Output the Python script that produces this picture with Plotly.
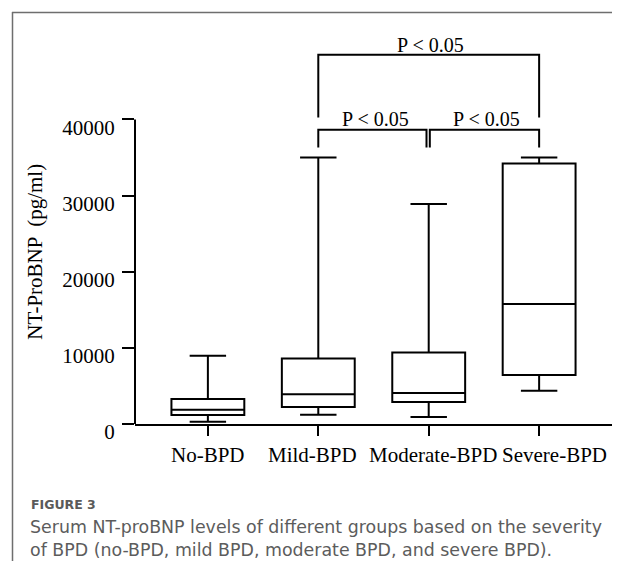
import plotly.graph_objects as go

# ---------------- data ----------------
categories = ["No-BPD", "Mild-BPD", "Moderate-BPD", "Severe-BPD"]
whisker_low = [300, 1200, 920, 4370]
q1_vals = [1180, 2230, 2890, 6430]
median_vals = [1880, 3900, 4070, 15760]
q3_vals = [3280, 8600, 9400, 34220]
whisker_high = [8970, 35000, 28900, 35000]

y_ticks = [0, 10000, 20000, 30000, 40000]
y_title = "NT-ProBNP  (pg/ml)"
p_label = "P < 0.05"
caption_head = "FIGURE 3"
caption_lines = [
    "Serum NT-proBNP levels of different groups based on the severity",
    "of BPD (no-BPD, mild BPD, moderate BPD, and severe BPD).",
]

# ---------------- layout constants ----------------
# the page body has an 8px margin, so the figure is sized to fit the window
OFF = 8
W, H = 620 - 2 * OFF, 569 - 2 * OFF
ML, MR, MT, MB = 127, 0, 20, 137
PW, PH = W - ML - MR, H - MT - MB
Y_MAX = 52000
X_RANGE = [-0.66, 3.66]
LABEL_SHIFT = [0, -6, 4, 15]   # px nudges of the category labels (avoid overlap)

def pxx(page_x):
    return (page_x - OFF - ML) / PW

def pxy(page_y):
    return (H - MB - (page_y - OFF)) / PH

SERIF = "Liberation Serif, Times New Roman, serif"
SANS = "DejaVu Sans, Open Sans, sans-serif"

x_pos = list(range(len(categories)))

fig = go.Figure()
fig.add_trace(go.Box(
    x=x_pos,
    q1=q1_vals, median=median_vals, q3=q3_vals,
    lowerfence=whisker_low, upperfence=whisker_high,
    width=0.66, whiskerwidth=0.5,
    line=dict(color="black", width=2),
    fillcolor="white",
    boxpoints=False,
    hoverinfo="skip",
    showlegend=False,
))

shapes = []
line_style = dict(color="black", width=2)
# y axis line from 0 to top tick
shapes.append(dict(type="line", xref="paper", yref="y", x0=0, x1=0,
                   y0=0, y1=y_ticks[-1], line=line_style))

# significance brackets (Mild vs Moderate, Moderate vs Severe, Mild vs Severe)
low_bar, low_leg = 38650, 36320
top_bar, top_leg = 48500, 40260
brackets = [
    (1, 1.98, low_bar, low_leg),
    (2.01, 3, low_bar, low_leg),
    (1, 3, top_bar, top_leg),
]
for xa, xb, yb, yl in brackets:
    shapes.append(dict(type="path", xref="x", yref="y",
                       path=f"M {xa},{yl} L {xa},{yb} L {xb},{yb} L {xb},{yl}",
                       line=line_style))

# outer frame (gray)
frame = dict(color="#6e6e6e", width=1.5)
shapes.append(dict(type="line", xref="paper", yref="paper",
                   x0=pxx(12), x1=pxx(620), y0=pxy(12.5), y1=pxy(12.5), line=frame))
shapes.append(dict(type="line", xref="paper", yref="paper",
                   x0=pxx(12.5), x1=pxx(12.5), y0=pxy(12), y1=pxy(569), line=frame))

annotations = []
p_font = dict(family=SERIF, size=20, color="black")
for xc, yc in [(1.52, 40090), (2.52, 40090), (2.02, 49800)]:
    annotations.append(dict(x=xc, y=yc, xref="x", yref="y", text=p_label,
                            showarrow=False, font=p_font,
                            xanchor="center", yanchor="middle"))

# category labels under the ticks
for xi, name, sh in zip(x_pos, categories, LABEL_SHIFT):
    annotations.append(dict(x=xi, y=pxy(454.5), xref="x", yref="paper", text=name,
                            xshift=sh, showarrow=False,
                            font=dict(family=SERIF, size=21, color="black"),
                            xanchor="center", yanchor="middle"))

annotations.append(dict(x=pxx(35), y=22630, xref="paper", yref="y",
                        text=y_title, textangle=-90, showarrow=False,
                        font=dict(family=SERIF, size=21, color="black"),
                        xanchor="center", yanchor="middle"))

annotations.append(dict(x=pxx(29), y=pxy(504.5), xref="paper", yref="paper",
                        text=caption_head, showarrow=False,
                        font=dict(family=SANS, size=12.5, color="#5a5a5a", weight="bold"),
                        xanchor="left", yanchor="middle"))
for i, line in enumerate(caption_lines):
    annotations.append(dict(x=pxx(28), y=pxy(527 + 22.5 * i), xref="paper", yref="paper",
                            text=line, showarrow=False,
                            font=dict(family=SANS, size=17.4, color="#5c5c5c"),
                            xanchor="left", yanchor="middle"))

fig.update_layout(
    width=W, height=H,
    margin=dict(l=ML, r=MR, t=MT, b=MB, pad=0),
    paper_bgcolor="white", plot_bgcolor="white",
    shapes=shapes, annotations=annotations,
    xaxis=dict(range=X_RANGE, tickmode="array", tickvals=x_pos, ticktext=categories,
               showticklabels=False,
               showline=True, linecolor="black", linewidth=2,
               ticks="outside", ticklen=10, tickwidth=2, tickcolor="black",
               showgrid=False, zeroline=False),
    yaxis=dict(range=[0, Y_MAX], tickmode="array", tickvals=y_ticks,
               ticktext=[str(v) for v in y_ticks],
               showline=False, ticks="outside", ticklen=12, tickwidth=2,
               tickcolor="black", showgrid=False, zeroline=False,
               ticklabelshift=8, ticklabelstandoff=3,
               tickfont=dict(family=SERIF, size=21, color="black")),
)

fig.write_html("out.html")
